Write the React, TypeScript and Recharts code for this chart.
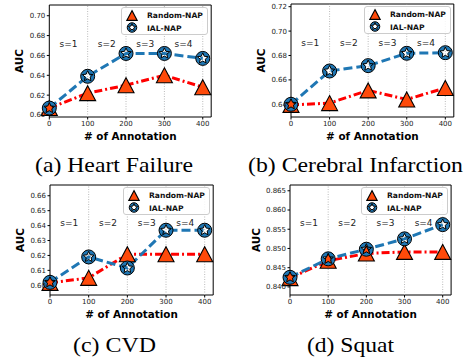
import React from "react";
import {
  LineChart,
  Line,
  XAxis,
  YAxis,
  ReferenceLine,
  ReferenceArea,
  ReferenceDot,
  Legend,
} from "recharts";

// x values shared by all four panels
const annotations = [0, 100, 200, 300, 400];
const stageLabels = ["s=1", "s=2", "s=3", "s=4"];
const stageCenters = [50, 150, 250, 350];
const gridLines = [100, 200, 300, 400];

const heartRandom = [0.607, 0.622, 0.63, 0.64, 0.628];
const heartIal = [0.607, 0.639, 0.662, 0.662, 0.657];
const cerebralRandom = [0.6395, 0.641, 0.6514, 0.644, 0.6534];
const cerebralIal = [0.64, 0.6673, 0.6717, 0.6818, 0.6823];
const cvdRandom = [0.6016, 0.605, 0.6208, 0.6208, 0.6208];
const cvdIal = [0.602, 0.619, 0.6116, 0.6369, 0.6369];
const squatRandom = [0.8423, 0.8468, 0.8487, 0.8491, 0.8491];
const squatIal = [0.8425, 0.8473, 0.8498, 0.8525, 0.8562];

const heartTicks = [0.6, 0.62, 0.64, 0.66, 0.68, 0.7];
const cerebralTicks = [0.64, 0.66, 0.68, 0.7, 0.72];
const cvdTicks = [0.6, 0.61, 0.62, 0.63, 0.64, 0.65, 0.66];
const squatTicks = [0.84, 0.845, 0.85, 0.855, 0.86, 0.865];

const RED = "#ff0000";
const ORANGE = "#ff4a0a";
const BLUE = "#1f77b4";
const SANS = "DejaVu Sans";

function starPath(cx: number, cy: number, ro: number, ri: number) {
  let d = "";
  for (let i = 0; i < 10; i++) {
    const r = i % 2 === 0 ? ro : ri;
    const a = -Math.PI / 2 + (i * Math.PI) / 5;
    d += (i === 0 ? "M" : "L") + (cx + r * Math.cos(a)).toFixed(2) + "," + (cy + r * Math.sin(a)).toFixed(2);
  }
  return d + "Z";
}

function Triangle({ cx, cy, s = 1 }: any) {
  if (cx == null || cy == null) return null;
  const w = 8 * s;
  const h = 7.5 * s;
  return (
    <path
      d={`M${cx},${cy - h}L${cx + w},${cy + h}L${cx - w},${cy + h}Z`}
      fill={ORANGE}
      stroke="#000"
      strokeWidth={1.1}
    />
  );
}

// blue disc with a star-shaped hole
function StarDisc({ cx, cy, s = 1 }: any) {
  if (cx == null || cy == null) return null;
  const r = 7 * s;
  const circle = `M${cx - r},${cy}a${r},${r} 0 1,0 ${2 * r},0a${r},${r} 0 1,0 ${-2 * r},0Z`;
  return (
    <path
      d={circle + starPath(cx, cy, 5.6 * s, 2.6 * s)}
      fill={BLUE}
      fillRule="evenodd"
      stroke="#000"
      strokeWidth={1}
    />
  );
}

function LegendBox() {
  return (
    <svg width={87} height={28} style={{ display: "block" }}>
      <rect x={0.5} y={0.5} width={86} height={27} rx={2.5} fill="rgba(255,255,255,0.85)" stroke="#cccccc" />
      <Triangle cx={11} cy={8.5} s={0.65} />
      <StarDisc cx={11} cy={20.5} s={0.68} />
      <text x={26} y={11} fontFamily={SANS} fontWeight="bold" fontSize={7.6} fill="#111">
        Random-NAP
      </text>
      <text x={26} y={23.5} fontFamily={SANS} fontWeight="bold" fontSize={7.6} fill="#111">
        IAL-NAP
      </text>
    </svg>
  );
}

interface PanelProps {
  left: number;
  top: number;
  width: number;
  random: number[];
  ial: number[];
  domain: [number, number];
  ticks: number[];
  digits: number;
  stageY: number;
  margin: { top: number; right: number; left: number; bottom: number };
  titleGap: number;
}

function Panel(p: PanelProps) {
  const data = annotations.map((n, i) => ({ n, random: p.random[i], ial: p.ial[i] }));
  const plotRight = p.width - p.margin.right;
  return (
    <div style={{ position: "absolute", left: p.left, top: p.top, width: p.width, height: 150 }}>
      <LineChart width={p.width} height={150} data={data} margin={p.margin}>
        <XAxis
          dataKey="n"
          type="number"
          domain={[0, 422]}
          ticks={annotations}
          axisLine={false}
          tickSize={2.5}
          tickMargin={1.5}
          tickLine={{ stroke: "#000" }}
          height={20}
          tick={{ fontSize: 7, fill: "#222", fontFamily: SANS }}
          label={{
            content: (props: any) => {
              const vb = props.viewBox;
              return (
                <text
                  x={vb.x + vb.width / 2}
                  y={vb.y + 23}
                  textAnchor="middle"
                  fontFamily={SANS}
                  fontWeight="bold"
                  fontSize={10.4}
                  fill="#000"
                >
                  # of Annotation
                </text>
              );
            },
          }}
        />
        <YAxis
          type="number"
          domain={p.domain}
          ticks={p.ticks}
          width={30}
          axisLine={false}
          tickSize={2.5}
          tickMargin={1.5}
          tickLine={{ stroke: "#000" }}
          tickFormatter={(v: number) => v.toFixed(p.digits)}
          tick={{ fontSize: 7, fill: "#222", fontFamily: SANS }}
          label={{
            content: (props: any) => {
              const vb = props.viewBox;
              const x = vb.x + vb.width - p.titleGap;
              const y = vb.y + vb.height / 2;
              return (
                <text
                  x={x}
                  y={y}
                  dy="0.36em"
                  transform={`rotate(-90, ${x}, ${y})`}
                  textAnchor="middle"
                  fontFamily={SANS}
                  fontWeight="bold"
                  fontSize={10.4}
                  fill="#000"
                >
                  AUC
                </text>
              );
            },
          }}
        />
        {gridLines.map((g) => (
          <ReferenceLine key={g} x={g} stroke="#aaaaaa" strokeWidth={0.8} strokeDasharray="1 1.5" />
        ))}
        <ReferenceArea
          x1={0}
          x2={422}
          y1={p.domain[0]}
          y2={p.domain[1]}
          fill="none"
          fillOpacity={0}
          stroke="#000"
          strokeWidth={1}
        />
        {stageLabels.map((s, i) => (
          <ReferenceDot
            key={s}
            x={stageCenters[i]}
            y={p.stageY}
            r={0}
            fill="none"
            stroke="none"
            label={{ value: s, position: "center", fontSize: 9, fill: "#222", fontFamily: SANS }}
          />
        ))}
        <Line
          dataKey="random"
          stroke={RED}
          strokeWidth={3}
          strokeDasharray="8 3 2 3"
          dot={<Triangle />}
          activeDot={false}
          isAnimationActive={false}
        />
        <Line
          dataKey="ial"
          stroke={BLUE}
          strokeWidth={3}
          strokeDasharray="9 4"
          dot={<StarDisc />}
          activeDot={false}
          isAnimationActive={false}
        />
        <Legend
          layout="horizontal"
          verticalAlign="middle"
          align="center"
          wrapperStyle={{ left: plotRight - 3 - 87, top: p.margin.top + 2, width: 87, height: 28 }}
          content={() => <LegendBox />}
        />
      </LineChart>
    </div>
  );
}

const captions = [
  { text: "(a) Heart Failure", x: 114, y: 171.5, w: 158 },
  { text: "(b) Cerebral Infarction", x: 355.5, y: 171.5, w: 215 },
  { text: "(c) CVD", x: 114.5, y: 351.5, w: 83 },
  { text: "(d) Squat", x: 350.5, y: 351.5, w: 87 },
];

export default function App() {
  return (
    <div style={{ position: "absolute", left: 0, top: 0, width: 473, height: 358, background: "#fff", overflow: "hidden" }}>
      <Panel
        left={0}
        top={0}
        width={236}
        random={heartRandom}
        ial={heartIal}
        domain={[0.598, 0.7108]}
        ticks={heartTicks}
        digits={2}
        stageY={0.672}
        margin={{ top: 5, right: 24.8, left: 19.3, bottom: 13 }}
        titleGap={30}
      />
      <Panel
        left={236}
        top={0}
        width={237}
        random={cerebralRandom}
        ial={cerebralIal}
        domain={[0.6296, 0.7222]}
        ticks={cerebralTicks}
        digits={2}
        stageY={0.6907}
        margin={{ top: 4, right: 19.2, left: 25, bottom: 13 }}
        titleGap={30}
      />
      <Panel
        left={0}
        top={178}
        width={236}
        random={cvdRandom}
        ial={cvdIal}
        domain={[0.5935, 0.6672]}
        ticks={cvdTicks}
        digits={2}
        stageY={0.6416}
        margin={{ top: 7, right: 22.8, left: 20, bottom: 13 }}
        titleGap={30}
      />
      <Panel
        left={236}
        top={178}
        width={237}
        random={squatRandom}
        ial={squatIal}
        domain={[0.8379, 0.8665]}
        ticks={squatTicks}
        digits={3}
        stageY={0.8567}
        margin={{ top: 7, right: 21.9, left: 24, bottom: 13 }}
        titleGap={34}
      />
      <svg width={473} height={358} style={{ position: "absolute", left: 0, top: 0, pointerEvents: "none" }}>
        {captions.map((c) => (
          <text
            key={c.text}
            x={c.x - c.w / 2}
            y={c.y}
            textLength={c.w}
            lengthAdjust="spacingAndGlyphs"
            fontFamily="Liberation Serif"
            fontSize={22}
            fill="#000"
          >
            {c.text}
          </text>
        ))}
      </svg>
    </div>
  );
}
